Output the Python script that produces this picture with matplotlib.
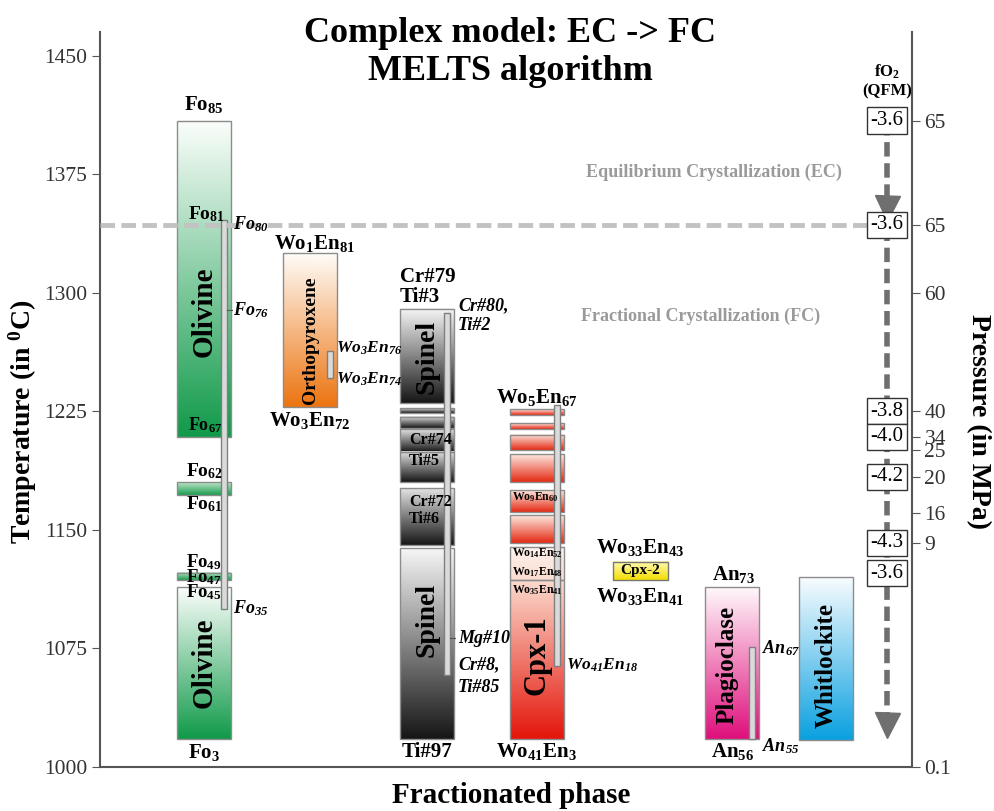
import numpy as np
import matplotlib
matplotlib.use("Agg")
import matplotlib.pyplot as plt
from matplotlib.colors import LinearSegmentedColormap
from matplotlib.patches import Rectangle

plt.rcParams['font.family'] = ['Liberation Serif', 'DejaVu Serif']
plt.rcParams['mathtext.default'] = 'regular'

# ---------------- data (temperatures in deg C, intervals as (top, bottom)) ----------------
phases = ["Olivine", "Orthopyroxene", "Spinel", "Cpx-1", "Cpx-2", "Plagioclase", "Whitlockite"]
phase_x = [1.04, 2.10, 3.27, 4.37, 5.40, 6.32, 7.26]

olivine_blocks = [(1409, 1209), (1180, 1172), (1123, 1118), (1114, 1018)]
olivine_fc = (1346, 1100)
opx_blocks = [(1325, 1228)]
opx_fc = (1263, 1246)
spinel_blocks = [(1290, 1230), (1227, 1224), (1221.5, 1214.5), (1214, 1199.5),
                 (1199.5, 1180), (1176.5, 1140.5), (1138.5, 1018)]
spinel_fc = (1287, 1058)
cpx1_blocks = [(1226.5, 1223), (1217.5, 1214), (1210, 1200.5), (1198, 1180.5),
               (1175, 1161.5), (1159.5, 1142), (1139, 1118), (1118, 1018)]
cpx1_fc = (1229, 1064)
cpx2_blocks = [(1130, 1118)]
plag_blocks = [(1114, 1018)]
plag_fc = (1076, 1018)
whit_blocks = [(1120, 1017)]

ec_temperature = 1343
temp_ticks = [1000, 1075, 1150, 1225, 1300, 1375, 1450]
pressure_temps = [1409, 1343, 1300, 1225, 1209, 1200.6, 1183.5, 1161, 1142, 1000]
pressure_labels = ['65', '65', '60', '40', '34', '25', '20', '16', '9', '0.1']
fo2_temps = [1409, 1343, 1225, 1209, 1183.5, 1142, 1122.5]
fo2_values = ['-3.6', '-3.6', '-3.8', '-4.0', '-4.2', '-4.3', '-3.6']

# ---------------- figure ----------------
fig = plt.figure(figsize=(9.95, 8.11), dpi=100)
ax = fig.add_axes([100 / 995, 44 / 811, 812 / 995, 735 / 811])
ax.set_xlim(0, 8.12)
ax.set_ylim(1000, 1465)

W = 0.54          # column width
BAR_OFF = 0.20    # offset of the fractional-crystallisation bar
BAR_W = 0.065


def gradient_box(xc, top, bottom, c_top, c_bot, width=W, ec='#8c8c8c', z=2):
    cmap = LinearSegmentedColormap.from_list('g', [c_bot, c_top])
    grad = np.linspace(0, 1, 128).reshape(-1, 1)
    ax.imshow(grad, extent=(xc - width / 2, xc + width / 2, bottom, top), origin='lower',
              cmap=cmap, aspect='auto', interpolation='bilinear', zorder=z)
    ax.add_patch(Rectangle((xc - width / 2, bottom), width, top - bottom, fill=False,
                           ec=ec, lw=1.0, zorder=z + 0.1))


def fc_bar(xc, span, ticks=()):
    top, bottom = span
    x0 = xc + BAR_OFF - BAR_W / 2
    ax.add_patch(Rectangle((x0, bottom), BAR_W, top - bottom, fc='#dadada', ec='#7f7f7f',
                           lw=1.0, zorder=4))
    for t in ticks:
        ax.plot([x0 + BAR_W, x0 + BAR_W + 0.05], [t, t], color='#555555', lw=0.8, zorder=4)


def lab(x, t, s, size=15, style='normal', ha='center', va='center', color='black',
        rot=0, weight='bold', z=6):
    ax.text(x, t, s, fontsize=size, fontstyle=style, fontweight=weight, ha=ha, va=va,
            color=color, rotation=rot, zorder=z)


# Olivine
xo = phase_x[0]
gradient_box(xo, *olivine_blocks[0], '#fbfefb', '#119a4a')
gradient_box(xo, *olivine_blocks[1], '#bfe6c9', '#1a9c50')
gradient_box(xo, *olivine_blocks[2], '#bfe6c9', '#1a9c50')
gradient_box(xo, *olivine_blocks[3], '#fbfefb', '#119a4a')
fc_bar(xo, olivine_fc, ticks=(1289,))

# Orthopyroxene
xp = phase_x[1]
gradient_box(xp, *opx_blocks[0], '#fffcf8', '#ec7410')
fc_bar(xp, opx_fc)

# Spinel
xs = phase_x[2]
for i, (tp, bt) in enumerate(spinel_blocks):
    c_top = '#f6f6f6' if i in (0, 6) else '#e4e4e4'
    gradient_box(xs, tp, bt, c_top, '#161616')
fc_bar(xs, spinel_fc, ticks=(1081.6,))

# Clinopyroxene 1
xc = phase_x[3]
for tp, bt in cpx1_blocks[:6]:
    gradient_box(xc, tp, bt, '#fde9e0', '#e42a14')
gradient_box(xc, *cpx1_blocks[6], '#fef3ee', '#fbdccf')
gradient_box(xc, *cpx1_blocks[7], '#fbdacd', '#e4160b')
fc_bar(xc, cpx1_fc)

# Clinopyroxene 2
x2 = phase_x[4]
gradient_box(x2, *cpx2_blocks[0], '#fffbb8', '#f4de00', width=0.55, ec='#777777')

# Plagioclase
xl = phase_x[5]
gradient_box(xl, *plag_blocks[0], '#fff8fb', '#df0f7c')
fc_bar(xl, plag_fc)

# Whitlockite
xw = phase_x[6]
gradient_box(xw, *whit_blocks[0], '#f8fcff', '#0aa0e0')

# EC level and fO2 path
x_f = 7.87
ax.plot([0, x_f - 0.2], [ec_temperature, ec_temperature], color='#c2c2c2', lw=3.5,
        dashes=(3, 1.3), zorder=5, solid_capstyle='butt')
ax.plot([x_f, x_f], [fo2_temps[0], 1030], color='#6f6f6f', lw=4, dashes=(2.6, 1.2), zorder=3)
ax.plot([x_f], [1353.5], marker='v', ms=18, color='#6f6f6f', zorder=3)
ax.plot([x_f], [1026.5], marker='v', ms=18, color='#6f6f6f', zorder=3)
for t, v in zip(fo2_temps, fo2_values):
    ax.text(x_f, t, v, fontsize=15, ha='center', va='center', zorder=7,
            bbox=dict(boxstyle='square,pad=0.17', fc='white', ec='#333333', lw=1))
lab(x_f, 1434, 'fO$_2$\n(QFM)', size=12, z=7)

# phase names
lab(xo, 1288, 'Olivine', size=21, rot=90)
lab(xo, 1066, 'Olivine', size=21, rot=90)
lab(xp, 1270, 'Orthopyroxene', size=14, rot=90)
lab(xs, 1259.5, 'Spinel', size=20, rot=90)
lab(xs, 1093, 'Spinel', size=20, rot=90)
lab(xc, 1071, 'Cpx-1', size=22, rot=90)
lab(6.27, 1064.5, 'Plagioclase', size=18, rot=90)
lab(xw, 1064.5, 'Whitlockite', size=18, rot=90)
lab(x2, 1124.3, 'Cpx-2', size=11)

# olivine compositions
lab(xo, 1419, 'Fo$_{85}$')
lab(1.06, 1350, 'Fo$_{81}$', size=14)
lab(1.05, 1216.5, 'Fo$_{67}$', size=13)
lab(xo, 1187, 'Fo$_{62}$', size=14)
lab(xo, 1166, 'Fo$_{61}$', size=14)
lab(xo, 1129.5, 'Fo$_{49}$', size=13.5)
lab(xo, 1120, 'Fo$_{47}$', size=13.5)
lab(xo, 1110.5, 'Fo$_{45}$', size=13.5)
lab(xo, 1009, 'Fo$_3$')
lab(1.33, 1343.7, 'Fo$_{80}$', size=13, style='italic', ha='left')
lab(1.33, 1289, 'Fo$_{76}$', size=13, style='italic', ha='left')
lab(1.33, 1100.6, 'Fo$_{35}$', size=13, style='italic', ha='left')

# orthopyroxene compositions
lab(2.14, 1331, 'Wo$_1$En$_{81}$')
lab(2.09, 1219, 'Wo$_3$En$_{72}$')
lab(2.36, 1265, 'Wo$_3$En$_{76}$', size=12.5, style='italic', ha='left')
lab(2.36, 1245, 'Wo$_3$En$_{74}$', size=12.5, style='italic', ha='left')

# spinel compositions
lab(3.00, 1310, 'Cr#79', ha='left')
lab(3.00, 1297.5, 'Ti#3', ha='left')
lab(3.58, 1291.6, 'Cr#80,', size=13, style='italic', ha='left')
lab(3.58, 1279, 'Ti#2', size=13, style='italic', ha='left')
lab(3.09, 1207, 'Cr#74', size=11.5, ha='left')
lab(3.09, 1193.7, 'Ti#5', size=11.5, ha='left')
lab(3.09, 1167.7, 'Cr#72', size=11.5, ha='left')
lab(3.09, 1157, 'Ti#6', size=11.5, ha='left')
lab(3.58, 1081.6, 'Mg#10', size=13, style='italic', ha='left')
lab(3.58, 1065, 'Cr#8,', size=13, style='italic', ha='left')
lab(3.58, 1050.6, 'Ti#85', size=13, style='italic', ha='left')
lab(xs, 1009.5, 'Ti#97')

# clinopyroxene compositions
lab(xc, 1233.5, 'Wo$_5$En$_{67}$')
lab(4.12, 1171, 'Wo$_9$En$_{60}$', size=8.5, ha='left')
lab(4.12, 1135.4, 'Wo$_{14}$En$_{52}$', size=8.5, ha='left')
lab(4.12, 1123.4, 'Wo$_{17}$En$_{48}$', size=8.5, ha='left')
lab(4.12, 1112, 'Wo$_{35}$En$_{41}$', size=8.5, ha='left')
lab(4.66, 1064.6, 'Wo$_{41}$En$_{18}$', size=12.5, style='italic', ha='left')
lab(xc, 1009.5, 'Wo$_{41}$En$_3$')
lab(x2, 1138.6, 'Wo$_{33}$En$_{43}$')
lab(x2, 1107.6, 'Wo$_{33}$En$_{41}$')

# plagioclase compositions
lab(6.33, 1121.5, 'An$_{73}$')
lab(6.33, 1009.5, 'An$_{56}$')
lab(6.62, 1075.3, 'An$_{67}$', size=13, style='italic', ha='left')
lab(6.62, 1013.3, 'An$_{55}$', size=13, style='italic', ha='left')

# regime annotations
lab(6.14, 1376, 'Equilibrium Crystallization (EC)', size=13, color='#9a9a9a')
lab(6.01, 1285.4, 'Fractional Crystallization (FC)', size=13, color='#9a9a9a')

# titles
fig.text(0.513, 1 - 34 / 811, 'Complex model: EC -> FC', fontsize=26, fontweight='bold',
         ha='center', va='center')
fig.text(0.513, 1 - 71 / 811, 'MELTS algorithm', fontsize=26, fontweight='bold',
         ha='center', va='center')

# axes styling
for s in ('top', 'right'):
    ax.spines[s].set_visible(False)
for s in ('left', 'bottom'):
    ax.spines[s].set_color('#555555')
    ax.spines[s].set_linewidth(1.5)
ax.set_xticks([])
ax.set_yticks(temp_ticks)
ax.set_yticklabels([str(t) for t in temp_ticks])
ax.tick_params(axis='y', direction='out', length=6, color='#555555', labelsize=15.5,
               labelcolor='#333333', pad=3)
ax.set_ylabel('Temperature (in $^0$C)', fontsize=20, fontweight='bold')
ax.yaxis.set_label_coords(-0.075, 0.47)
ax.set_xlabel('Fractionated phase', fontsize=21, fontweight='bold', va='baseline')
ax.xaxis.set_label_coords(0.506, -0.0495)

ax2 = ax.twinx()
ax2.set_ylim(ax.get_ylim())
for s in ('top', 'left', 'bottom'):
    ax2.spines[s].set_visible(False)
ax2.spines['right'].set_color('#555555')
ax2.spines['right'].set_linewidth(1.5)
ax2.set_yticks(pressure_temps)
ax2.set_yticklabels(pressure_labels)
ax2.tick_params(axis='y', direction='out', length=6, color='#555555', labelsize=15.5,
                labelcolor='#333333', pad=3)
ax2.set_ylabel('Pressure (in MPa)', fontsize=20, fontweight='bold', rotation=270)
ax2.yaxis.set_label_coords(1.097, 0.47)

fig.savefig('out.png', dpi=100)
